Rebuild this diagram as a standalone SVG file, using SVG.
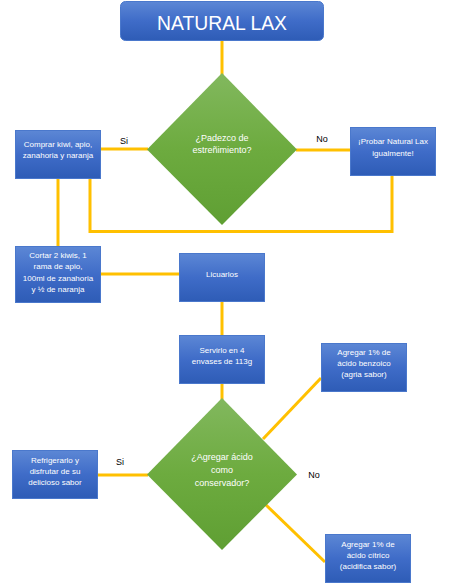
<svg xmlns="http://www.w3.org/2000/svg" width="450" height="584" viewBox="0 0 450 584">
<defs>
<linearGradient id="gb" x1="0" y1="0" x2="0" y2="1">
<stop offset="0" stop-color="#5c87d5"/>
<stop offset="0.5" stop-color="#3f6cc8"/>
<stop offset="1" stop-color="#2e5cb6"/>
</linearGradient>
<linearGradient id="gg" x1="0" y1="0" x2="0" y2="1">
<stop offset="0" stop-color="#82b85e"/>
<stop offset="0.5" stop-color="#6dab3f"/>
<stop offset="1" stop-color="#5f9f33"/>
</linearGradient>
</defs>
<style>
.box{fill:url(#gb);stroke:#4a78cc;stroke-width:1}
.dia{fill:url(#gg);stroke:none}
.t{font-family:"Liberation Sans",Arial,sans-serif;font-size:8px;fill:#ffffff;text-anchor:middle}
.dt{font-family:"Liberation Sans",Arial,sans-serif;font-size:9px;fill:#ffffff;text-anchor:middle}
.lb{font-family:"Liberation Sans",Arial,sans-serif;font-size:9px;fill:#000000;text-anchor:middle}
.c{fill:none;stroke:#ffc000;stroke-width:3}
</style>
<g id="connectors">
<line class="c" x1="222" y1="41" x2="222" y2="75"/>
<line class="c" x1="100" y1="149" x2="148" y2="149"/>
<line class="c" x1="296" y1="150" x2="350" y2="150"/>
<line class="c" x1="58" y1="178" x2="58" y2="246"/>
<polyline class="c" points="90,178 90,231.5 392,231.5 392,175"/>
<line class="c" x1="100" y1="274" x2="179" y2="274"/>
<line class="c" x1="222" y1="301" x2="222" y2="335"/>
<line class="c" x1="222" y1="383" x2="222" y2="400"/>
<line class="c" x1="97" y1="475" x2="148" y2="475"/>
<line class="c" x1="263" y1="439" x2="321" y2="378"/>
<line class="c" x1="265" y1="504" x2="325" y2="562"/>
</g>
<g id="title">
<rect class="box" x="120.5" y="1.5" width="203" height="39" rx="5"/>
<text x="222" y="30" font-family="'Liberation Sans',Arial,sans-serif" font-size="21" fill="#ffffff" text-anchor="middle" textLength="130" lengthAdjust="spacingAndGlyphs">NATURAL LAX</text>
</g>
<g id="d1">
<polygon class="dia" points="222,73 297,149.5 222,225 147,149.5"/>
<text class="dt" x="222" y="141">¿Padezco de</text>
<text class="dt" x="222" y="153">estreñimiento?</text>
</g>
<g id="n-comprar">
<rect class="box" x="15.5" y="130.5" width="85" height="48"/>
<text class="t" x="58" y="147">Comprar kiwi, apio,</text>
<text class="t" x="58" y="158">zanahoria y naranja</text>
</g>
<g id="n-probar">
<rect class="box" x="350.5" y="127.5" width="85" height="48"/>
<text class="t" x="393" y="144">¡Probar Natural Lax</text>
<text class="t" x="393" y="156">igualmente!</text>
</g>
<g id="lbl1">
<text class="lb" x="124" y="144">Si</text>
<text class="lb" x="322" y="142">No</text>
</g>
<g id="n-cortar">
<rect class="box" x="15.5" y="246.5" width="85" height="56"/>
<text class="t" x="58" y="258">Cortar 2 kiwis, 1</text>
<text class="t" x="58" y="269">rama de apio,</text>
<text class="t" x="58" y="281">100ml de zanahoria</text>
<text class="t" x="58" y="292">y ½ de naranja</text>
</g>
<g id="n-licuarlos">
<rect class="box" x="179.5" y="253.5" width="85" height="48"/>
<text class="t" x="222" y="277">Licuarlos</text>
</g>
<g id="n-servirlo">
<rect class="box" x="179.5" y="335.5" width="85" height="48"/>
<text class="t" x="222" y="353">Servirlo en 4</text>
<text class="t" x="222" y="364">envases de 113g</text>
</g>
<g id="d2">
<polygon class="dia" points="222,398 297,474.5 222,550 147,474.5"/>
<text class="dt" x="222" y="460">¿Agregar ácido</text>
<text class="dt" x="222" y="473">como</text>
<text class="dt" x="222" y="486">conservador?</text>
</g>
<g id="n-refrigerar">
<rect class="box" x="12.5" y="450.5" width="85" height="48"/>
<text class="t" x="55" y="463">Refrigerarlo y</text>
<text class="t" x="55" y="474">disfrutar de su</text>
<text class="t" x="55" y="485">delicioso sabor</text>
</g>
<g id="lbl2">
<text class="lb" x="120" y="465">Si</text>
<text class="lb" x="314" y="478">No</text>
</g>
<g id="n-benzoico">
<rect class="box" x="321.5" y="343.5" width="85" height="48"/>
<text class="t" x="364" y="355">Agregar 1% de</text>
<text class="t" x="364" y="366">ácido benzoico</text>
<text class="t" x="364" y="377">(agria sabor)</text>
</g>
<g id="n-citrico">
<rect class="box" x="325.5" y="534.5" width="85" height="48"/>
<text class="t" x="368" y="547">Agregar 1% de</text>
<text class="t" x="368" y="558">ácido cítrico</text>
<text class="t" x="368" y="569">(acidifica sabor)</text>
</g>
</svg>
